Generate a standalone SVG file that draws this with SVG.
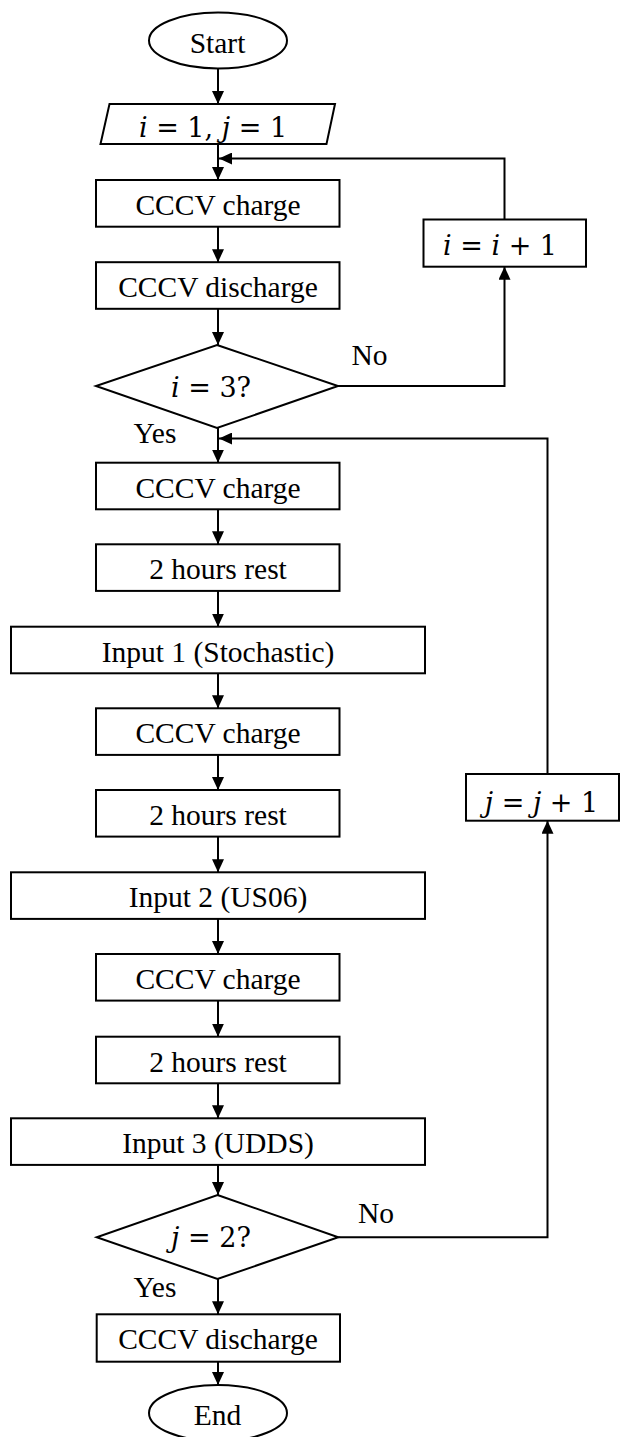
<svg xmlns="http://www.w3.org/2000/svg" width="621" height="1437" viewBox="0 0 621 1437">
  <style>
    .shape { fill: #ffffff; stroke: #000000; stroke-width: 2; }
    .lbl { font-family: "Liberation Serif", "Times New Roman", serif; font-size: 29.5px; fill: #000000; }
    .mid { text-anchor: middle; }
    .math { font-family: "DejaVu Serif", "Liberation Serif", serif; font-size: 27px; fill: #000000; text-anchor: middle; }
    .it { font-style: italic; }
    .conn { fill: none; stroke: #000000; stroke-width: 2; }
  </style>
  <defs>
    <marker id="arrow" markerUnits="userSpaceOnUse" markerWidth="14" markerHeight="12" refX="13" refY="6" orient="auto">
      <path d="M0,0 L13,6 L0,12 Z" fill="#000000"/>
    </marker>
  </defs>
  <rect width="621" height="1437" fill="#ffffff"/>

  <g id="connectors">
    <line class="conn" x1="218" y1="68.5" x2="218" y2="104" marker-end="url(#arrow)"/>
    <line class="conn" x1="218" y1="144" x2="218" y2="180" marker-end="url(#arrow)"/>
    <polyline class="conn" points="504.5,219.5 504.5,158.5 219,158.5" marker-end="url(#arrow)"/>
    <line class="conn" x1="218" y1="226.7" x2="218" y2="262.2" marker-end="url(#arrow)"/>
    <line class="conn" x1="218" y1="308.8" x2="218" y2="345" marker-end="url(#arrow)"/>
    <polyline class="conn" points="338,386 504.5,386 504.5,266.7" marker-end="url(#arrow)"/>
    <line class="conn" x1="218" y1="428" x2="218" y2="462.7" marker-end="url(#arrow)"/>
    <polyline class="conn" points="547.5,774 547.5,438.5 219,438.5" marker-end="url(#arrow)"/>
    <line class="conn" x1="218" y1="509.3" x2="218" y2="544.3" marker-end="url(#arrow)"/>
    <line class="conn" x1="218" y1="590.9" x2="218" y2="626.7" marker-end="url(#arrow)"/>
    <line class="conn" x1="218" y1="673.3" x2="218" y2="708.3" marker-end="url(#arrow)"/>
    <line class="conn" x1="218" y1="754.9" x2="218" y2="790" marker-end="url(#arrow)"/>
    <line class="conn" x1="218" y1="836.6" x2="218" y2="872.3" marker-end="url(#arrow)"/>
    <line class="conn" x1="218" y1="918.9" x2="218" y2="954" marker-end="url(#arrow)"/>
    <line class="conn" x1="218" y1="1000.6" x2="218" y2="1036.7" marker-end="url(#arrow)"/>
    <line class="conn" x1="218" y1="1083.3" x2="218" y2="1118.3" marker-end="url(#arrow)"/>
    <line class="conn" x1="218" y1="1164.9" x2="218" y2="1195" marker-end="url(#arrow)"/>
    <polyline class="conn" points="338.3,1237.3 547.5,1237.3 547.5,820.7" marker-end="url(#arrow)"/>
    <line class="conn" x1="218" y1="1279" x2="218" y2="1314.3" marker-end="url(#arrow)"/>
    <line class="conn" x1="218" y1="1361.7" x2="218" y2="1385" marker-end="url(#arrow)"/>
  </g>

  <g id="start">
    <ellipse class="shape" cx="218" cy="40.5" rx="69" ry="28"/>
    <text class="lbl mid" x="217.5" y="53">Start</text>
  </g>

  <g id="init">
    <polygon class="shape" points="109.5,104 335,104 326.5,144 100.5,144"/>
    <text class="math" x="213" y="136.5"><tspan class="it">i</tspan> = 1, <tspan class="it">j</tspan> = 1</text>
  </g>

  <g id="charge1">
    <rect class="shape" x="96" y="180" width="243.5" height="46.7"/>
    <text class="lbl mid" x="218" y="215">CCCV charge</text>
  </g>

  <g id="discharge1">
    <rect class="shape" x="96" y="262.2" width="243.5" height="46.6"/>
    <text class="lbl mid" x="218" y="297">CCCV discharge</text>
  </g>

  <g id="decision-i">
    <polygon class="shape" points="217,345 338,386 217,428 96,386"/>
    <text class="math" x="211" y="396.5"><tspan class="it">i</tspan> = 3?</text>
  </g>

  <g id="inc-i">
    <rect class="shape" x="423.5" y="219.5" width="162.5" height="47.2"/>
    <text class="math" x="500" y="255"><tspan class="it">i</tspan> = <tspan class="it">i</tspan> + 1</text>
  </g>

  <g id="charge2">
    <rect class="shape" x="96" y="462.7" width="243.5" height="46.6"/>
    <text class="lbl mid" x="218" y="497.7">CCCV charge</text>
  </g>

  <g id="rest1">
    <rect class="shape" x="96" y="544.3" width="243.5" height="46.6"/>
    <text class="lbl mid" x="218" y="579.3">2 hours rest</text>
  </g>

  <g id="input1">
    <rect class="shape" x="11" y="626.7" width="414" height="46.6"/>
    <text class="lbl mid" x="218" y="661.7">Input 1 (Stochastic)</text>
  </g>

  <g id="charge3">
    <rect class="shape" x="96" y="708.3" width="243.5" height="46.6"/>
    <text class="lbl mid" x="218" y="743.3">CCCV charge</text>
  </g>

  <g id="rest2">
    <rect class="shape" x="96" y="790" width="243.5" height="46.6"/>
    <text class="lbl mid" x="218" y="825">2 hours rest</text>
  </g>

  <g id="input2">
    <rect class="shape" x="11" y="872.3" width="414" height="46.6"/>
    <text class="lbl mid" x="218" y="907.3">Input 2 (US06)</text>
  </g>

  <g id="charge4">
    <rect class="shape" x="96" y="954" width="243.5" height="46.6"/>
    <text class="lbl mid" x="218" y="989">CCCV charge</text>
  </g>

  <g id="rest3">
    <rect class="shape" x="96" y="1036.7" width="243.5" height="46.6"/>
    <text class="lbl mid" x="218" y="1071.7">2 hours rest</text>
  </g>

  <g id="input3">
    <rect class="shape" x="11" y="1118.3" width="414" height="46.6"/>
    <text class="lbl mid" x="218" y="1153.3">Input 3 (UDDS)</text>
  </g>

  <g id="decision-j">
    <polygon class="shape" points="217.5,1195 338.3,1237.3 217.5,1279 96.7,1237.3"/>
    <text class="math" x="211" y="1247"><tspan class="it">j</tspan> = 2?</text>
  </g>

  <g id="inc-j">
    <rect class="shape" x="466" y="774" width="153" height="46.7"/>
    <text class="math" x="541.5" y="811.5"><tspan class="it">j</tspan> = <tspan class="it">j</tspan> + 1</text>
  </g>

  <g id="discharge2">
    <rect class="shape" x="96.7" y="1314.3" width="243.3" height="47.4"/>
    <text class="lbl mid" x="218" y="1349.3">CCCV discharge</text>
  </g>

  <g id="end">
    <ellipse class="shape" cx="218" cy="1413" rx="69" ry="28"/>
    <text class="lbl mid" x="217.5" y="1425">End</text>
  </g>

  <g id="edge-labels">
    <text class="lbl" x="351.5" y="365">No</text>
    <text class="lbl" x="133.5" y="443">Yes</text>
    <text class="lbl" x="358" y="1223">No</text>
    <text class="lbl" x="133.5" y="1297">Yes</text>
  </g>
</svg>
